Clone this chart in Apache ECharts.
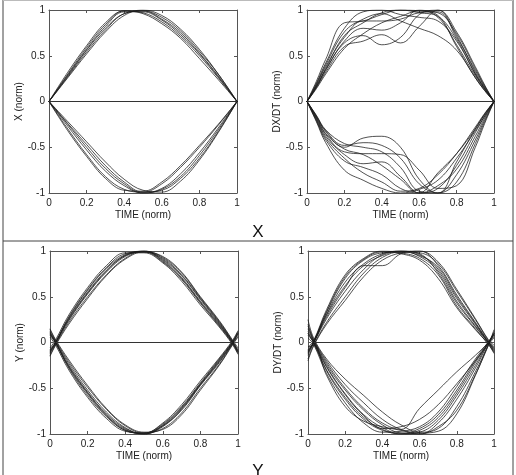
<!DOCTYPE html>
<html>
<head>
<meta charset="utf-8">
<script src="https://cdn.jsdelivr.net/npm/echarts@6/dist/echarts.min.js"></script>
<style>
html, body { margin: 0; padding: 0; background: #fff; }
#chart { width: 516px; height: 475px; }
</style>
</head>
<body>
<div id="chart"></div>
<script>
// time samples (normalised)
var timeX = [0, 0.1, 0.2, 0.3, 0.4, 0.5, 0.6, 0.7, 0.8, 0.9, 1];
var timeDX = [0, 0.05, 0.1, 0.2, 0.3, 0.4, 0.5, 0.6, 0.7, 0.8, 0.9, 0.95, 1];
var timeY = [0, 0.03, 0.1, 0.2, 0.3, 0.4, 0.5, 0.6, 0.7, 0.8, 0.9, 0.97, 1];
var timeDY = [0, 0.03, 0.1, 0.2, 0.3, 0.4, 0.5, 0.6, 0.7, 0.8, 0.9, 0.97, 1];

var xTicks = [0, 0.2, 0.4, 0.6, 0.8, 1];
var yTicks = [-1, -0.5, 0, 0.5, 1];

// X position traces
var xCurves = [
    [0, 0.28, 0.56, 0.80, 0.96, 0.99, 0.90, 0.75, 0.53, 0.28, 0],
    [0, 0.30, 0.59, 0.84, 0.99, 0.97, 0.87, 0.71, 0.50, 0.26, 0],
    [0, 0.26, 0.52, 0.76, 0.94, 1.0, 0.94, 0.79, 0.57, 0.30, 0],
    [0, 0.32, 0.61, 0.86, 0.99, 0.96, 0.85, 0.69, 0.47, 0.24, 0],
    [0, 0.27, 0.54, 0.78, 0.96, 0.99, 0.92, 0.77, 0.55, 0.30, 0],
    [0, 0.29, 0.57, 0.82, 0.98, 0.98, 0.89, 0.73, 0.52, 0.27, 0],
    [0, -0.24, -0.47, -0.70, -0.88, -0.99, -0.97, -0.84, -0.62, -0.33, 0],
    [0, -0.30, -0.58, -0.82, -0.96, -0.99, -0.90, -0.72, -0.50, -0.26, 0],
    [0, -0.27, -0.53, -0.76, -0.92, -1.0, -0.95, -0.79, -0.56, -0.29, 0],
    [0, -0.22, -0.44, -0.66, -0.85, -0.97, -0.99, -0.87, -0.64, -0.34, 0],
    [0, -0.32, -0.60, -0.84, -0.97, -0.98, -0.88, -0.70, -0.48, -0.25, 0],
    [0, -0.25, -0.50, -0.73, -0.90, -1.0, -0.96, -0.82, -0.59, -0.31, 0]
];

// DX/DT traces
var dxCurves = [
    [0, 0.18, 0.38, 0.70, 0.88, 0.88, 0.90, 0.97, 0.98, 0.70, 0.34, 0.16, 0],
    [0, 0.15, 0.32, 0.60, 0.66, 0.73, 0.64, 0.82, 1.0, 0.72, 0.32, 0.15, 0],
    [0, 0.20, 0.42, 0.80, 0.98, 1.0, 0.95, 0.92, 0.88, 0.66, 0.30, 0.14, 0],
    [0, 0.17, 0.36, 0.72, 0.86, 0.97, 1.0, 0.99, 0.94, 0.60, 0.26, 0.12, 0],
    [0, 0.14, 0.30, 0.58, 0.74, 0.86, 0.93, 0.99, 0.97, 0.74, 0.36, 0.17, 0],
    [0, 0.16, 0.34, 0.66, 0.80, 0.78, 0.86, 1.0, 0.92, 0.62, 0.28, 0.13, 0],
    [0, 0.19, 0.40, 0.76, 0.90, 0.96, 0.88, 0.80, 0.72, 0.56, 0.26, 0.12, 0],
    [0, 0.22, 0.46, 0.86, 0.88, 0.95, 1.0, 0.97, 0.93, 0.68, 0.30, 0.14, 0],
    [0, 0.16, 0.35, 0.64, 0.72, 0.62, 0.70, 0.95, 1.0, 0.76, 0.38, 0.18, 0],
    [0, -0.16, -0.33, -0.50, -0.40, -0.38, -0.50, -0.85, -1.0, -0.80, -0.42, -0.20, 0],
    [0, -0.18, -0.36, -0.55, -0.57, -0.57, -0.58, -0.75, -0.95, -0.92, -0.50, -0.24, 0],
    [0, -0.22, -0.45, -0.75, -0.86, -0.95, -1.0, -0.96, -0.86, -0.62, -0.32, -0.16, 0],
    [0, -0.17, -0.35, -0.52, -0.58, -0.70, -0.85, -1.0, -0.95, -0.70, -0.34, -0.16, 0],
    [0, -0.15, -0.31, -0.46, -0.50, -0.55, -0.72, -0.98, -1.0, -0.66, -0.30, -0.14, 0],
    [0, -0.20, -0.40, -0.62, -0.78, -0.88, -0.98, -0.95, -0.80, -0.57, -0.28, -0.13, 0],
    [0, -0.19, -0.38, -0.58, -0.68, -0.66, -0.82, -1.0, -0.78, -0.57, -0.30, -0.14, 0],
    [0, -0.16, -0.32, -0.48, -0.45, -0.48, -0.62, -0.90, -1.0, -0.88, -0.46, -0.22, 0],
    [0, -0.21, -0.42, -0.65, -0.72, -0.80, -0.95, -1.0, -0.92, -0.74, -0.38, -0.18, 0]
];

// Y position traces
var yCurves = [
    [-0.10, 0, 0.26, 0.55, 0.79, 0.95, 0.99, 0.90, 0.71, 0.45, 0.20, 0, -0.10],
    [-0.14, -0.02, 0.22, 0.50, 0.74, 0.92, 1.0, 0.93, 0.76, 0.49, 0.23, 0.02, -0.08],
    [-0.06, 0.03, 0.30, 0.60, 0.84, 0.98, 0.98, 0.87, 0.67, 0.41, 0.17, -0.02, -0.13],
    [-0.12, -0.01, 0.24, 0.53, 0.77, 0.94, 1.0, 0.91, 0.73, 0.47, 0.21, 0.01, -0.09],
    [-0.08, 0.01, 0.28, 0.58, 0.82, 0.97, 0.99, 0.88, 0.69, 0.43, 0.18, -0.01, -0.12],
    [-0.15, -0.03, 0.20, 0.48, 0.73, 0.91, 0.99, 0.94, 0.77, 0.50, 0.24, 0.03, -0.06],
    [-0.09, 0, 0.27, 0.57, 0.81, 0.96, 1.0, 0.89, 0.70, 0.44, 0.19, 0, -0.11],
    [-0.11, 0, 0.25, 0.54, 0.78, 0.95, 0.99, 0.92, 0.74, 0.48, 0.22, 0.01, -0.10],
    [0.10, 0, -0.25, -0.54, -0.78, -0.94, -1.0, -0.92, -0.73, -0.46, -0.20, 0, 0.10],
    [0.14, 0.02, -0.21, -0.49, -0.73, -0.91, -0.99, -0.94, -0.77, -0.50, -0.24, -0.02, 0.07],
    [0.06, -0.03, -0.30, -0.60, -0.83, -0.97, -0.99, -0.88, -0.68, -0.42, -0.17, 0.02, 0.13],
    [0.12, 0.01, -0.23, -0.52, -0.76, -0.93, -1.0, -0.91, -0.72, -0.46, -0.21, -0.01, 0.09],
    [0.08, -0.01, -0.28, -0.58, -0.81, -0.96, -0.99, -0.89, -0.70, -0.44, -0.18, 0.01, 0.12],
    [0.15, 0.03, -0.19, -0.47, -0.72, -0.90, -0.98, -0.95, -0.79, -0.52, -0.25, -0.03, 0.06],
    [0.09, 0, -0.27, -0.56, -0.80, -0.95, -1.0, -0.90, -0.71, -0.45, -0.19, 0, 0.11],
    [0.11, 0, -0.26, -0.55, -0.79, -0.96, -0.99, -0.91, -0.74, -0.47, -0.22, -0.01, 0.10]
];

// DY/DT traces
var dyCurves = [
    [-0.12, 0, 0.30, 0.62, 0.84, 0.95, 1.0, 0.96, 0.80, 0.48, 0.20, 0, -0.08],
    [-0.18, -0.03, 0.22, 0.50, 0.76, 0.93, 0.99, 0.98, 0.86, 0.56, 0.25, 0.02, -0.05],
    [-0.05, 0.02, 0.36, 0.74, 0.92, 1.0, 0.98, 0.92, 0.74, 0.40, 0.15, -0.02, -0.10],
    [-0.10, 0, 0.28, 0.60, 0.84, 0.84, 0.97, 1.0, 0.84, 0.52, 0.22, 0.01, -0.07],
    [-0.14, -0.01, 0.26, 0.56, 0.80, 0.96, 1.0, 0.94, 0.78, 0.45, 0.18, 0, -0.09],
    [-0.08, 0.01, 0.33, 0.70, 0.90, 0.98, 0.99, 0.95, 0.82, 0.50, 0.21, 0, -0.06],
    [-0.20, -0.04, 0.20, 0.46, 0.72, 0.90, 0.98, 1.0, 0.88, 0.58, 0.26, 0.03, -0.03],
    [-0.11, 0, 0.31, 0.66, 0.86, 0.97, 1.0, 0.97, 0.76, 0.43, 0.17, -0.01, -0.11],
    [-0.09, 0, 0.34, 0.72, 0.91, 0.99, 0.97, 0.90, 0.70, 0.38, 0.14, -0.02, -0.12],
    [0.10, 0, -0.30, -0.60, -0.82, -0.95, -1.0, -0.96, -0.82, -0.55, -0.22, 0, 0.08],
    [0.25, 0.05, -0.18, -0.40, -0.58, -0.76, -0.90, -0.98, -0.94, -0.70, -0.32, -0.02, 0.12],
    [0.05, -0.02, -0.34, -0.66, -0.88, -0.98, -0.97, -0.92, -0.76, -0.48, -0.18, 0.01, 0.10],
    [0.15, 0.02, -0.24, -0.52, -0.74, -0.90, -0.99, -1.0, -0.88, -0.62, -0.28, -0.01, 0.06],
    [-0.05, -0.03, -0.36, -0.70, -0.86, -0.92, -0.96, -1.0, -0.92, -0.74, -0.35, -0.03, 0.14],
    [0.12, 0.01, -0.26, -0.56, -0.79, -0.93, -1.0, -0.98, -0.85, -0.58, -0.25, 0, 0.09],
    [0.18, 0.03, -0.20, -0.46, -0.66, -0.84, -0.95, -0.99, -0.97, -0.78, -0.36, -0.03, 0.05],
    [0.08, 0, -0.31, -0.62, -0.84, -0.96, -0.99, -0.94, -0.79, -0.52, -0.20, 0, 0.10],
    [0.20, 0.03, -0.22, -0.50, -0.72, -0.88, -0.95, -0.72, -0.52, -0.32, -0.14, 0, 0.08],
    [0.10, 0, -0.27, -0.57, -0.80, -0.94, -0.92, -0.84, -0.68, -0.45, -0.20, -0.01, 0.10]
];

// zero reference lines [start, end]
var zeroX = [0, 1];
var zeroDX = [0, 1];
var zeroY = [0.03, 0.97];
var zeroDY = [0.03, 0.97];

var yNames = ['X (norm)', 'DX/DT (norm)', 'Y (norm)', 'DY/DT (norm)'];
var xName = 'TIME (norm)';

var panels = [
    {t: timeX, c: xCurves, z: zeroX},
    {t: timeDX, c: dxCurves, z: zeroDX},
    {t: timeY, c: yCurves, z: zeroY},
    {t: timeDY, c: dyCurves, z: zeroDY}
];

var grids = [
    {left: 49, top: 10, width: 188, height: 183},
    {left: 307, top: 10, width: 187, height: 183},
    {left: 50, top: 251, width: 188, height: 183},
    {left: 308, top: 251, width: 186, height: 183}
];

var font = 'Liberation Sans, Arial, sans-serif';
var axisCol = '#555';
var lineCol = '#1c1c1c';

var xAxes = [], yAxes = [], series = [];
for (var i = 0; i < 4; i++) {
    // bottom / left axes with labels
    xAxes.push({
        type: 'value', gridIndex: i, min: 0, max: 1, interval: 0.2, position: 'bottom',
        name: xName, nameLocation: 'middle', nameGap: 17,
        nameTextStyle: {fontFamily: font, fontSize: 10, color: '#222'},
        axisLine: {onZero: false, lineStyle: {color: axisCol, width: 1}},
        axisTick: {inside: true, length: 3, lineStyle: {color: axisCol}},
        axisLabel: {fontFamily: font, fontSize: 10, color: '#222', margin: 5},
        splitLine: {show: false}
    });
    // top mirror axis
    xAxes.push({
        type: 'value', gridIndex: i, min: 0, max: 1, interval: 0.2, position: 'top',
        axisLine: {onZero: false, lineStyle: {color: axisCol, width: 1}},
        axisTick: {inside: true, length: 3, lineStyle: {color: axisCol}},
        axisLabel: {show: false}, splitLine: {show: false}
    });
    yAxes.push({
        type: 'value', gridIndex: i, min: -1, max: 1, interval: 0.5, position: 'left',
        name: yNames[i], nameLocation: 'middle', nameGap: 19, nameRotate: 90,
        nameTextStyle: {fontFamily: font, fontSize: 10, color: '#222'},
        axisLine: {onZero: false, lineStyle: {color: axisCol, width: 1}},
        axisTick: {inside: true, length: 3, lineStyle: {color: axisCol}},
        axisLabel: {fontFamily: font, fontSize: 10, color: '#222', margin: 4},
        splitLine: {show: false}
    });
    yAxes.push({
        type: 'value', gridIndex: i, min: -1, max: 1, interval: 0.5, position: 'right',
        axisLine: {onZero: false, lineStyle: {color: axisCol, width: 1}},
        axisTick: {inside: true, length: 3, lineStyle: {color: axisCol}},
        axisLabel: {show: false}, splitLine: {show: false}
    });

    var p = panels[i];
    for (var k = 0; k < p.c.length; k++) {
        var pts = [];
        for (var j = 0; j < p.t.length; j++) {
            pts.push([p.t[j], p.c[k][j]]);
        }
        series.push({
            type: 'line', xAxisIndex: i * 2, yAxisIndex: i * 2,
            data: pts, smooth: 0.4, showSymbol: false,
            lineStyle: {color: lineCol, width: 0.9, opacity: 0.85},
            silent: true
        });
    }
    series.push({
        type: 'line', xAxisIndex: i * 2, yAxisIndex: i * 2,
        data: [[p.z[0], 0], [p.z[1], 0]], showSymbol: false,
        lineStyle: {color: '#333', width: 1},
        silent: true
    });
}

var myChart = echarts.init(document.getElementById('chart'));
myChart.setOption({
    animation: false,
    backgroundColor: '#fff',
    grid: grids,
    xAxis: xAxes,
    yAxis: yAxes,
    series: series,
    graphic: [
        // outer frame and divider
        {type: 'line', shape: {x1: 3, y1: 0, x2: 3, y2: 475}, style: {stroke: '#444', lineWidth: 1}},
        {type: 'line', shape: {x1: 513, y1: 0, x2: 513, y2: 475}, style: {stroke: '#444', lineWidth: 1}},
        {type: 'line', shape: {x1: 3, y1: 241, x2: 513, y2: 241}, style: {stroke: '#444', lineWidth: 1}},
        {type: 'line', shape: {x1: 3, y1: 0.5, x2: 513, y2: 0.5}, style: {stroke: '#bbb', lineWidth: 1}},
        {type: 'text', x: 258, y: 232, style: {text: 'X', fontFamily: font, fontSize: 17, fill: '#111', align: 'center', verticalAlign: 'middle'}},
        {type: 'text', x: 258, y: 471, style: {text: 'Y', fontFamily: font, fontSize: 17, fill: '#111', align: 'center', verticalAlign: 'middle'}}
    ]
});
</script>
</body>
</html>
